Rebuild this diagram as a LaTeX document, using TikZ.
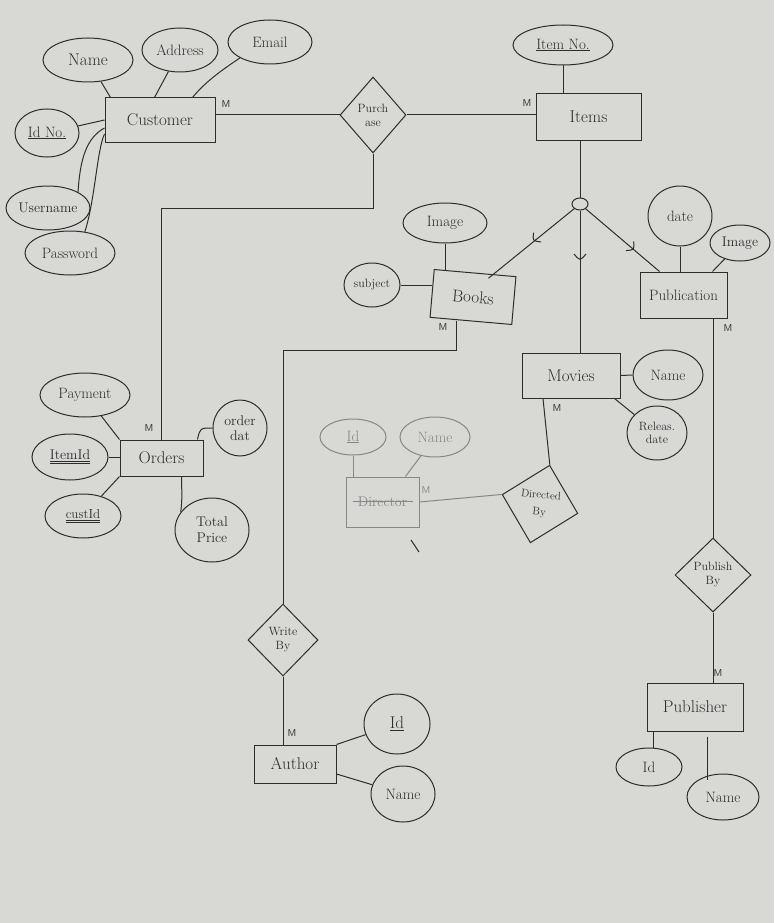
\documentclass[tikz,border=0pt]{standalone}
\usepackage{fontspec}
\usetikzlibrary{shapes.geometric}
\definecolor{paper}{RGB}{216,216,213}
\definecolor{pencil}{RGB}{45,45,45}
\definecolor{faint}{RGB}{135,135,135}
\begin{document}
\begin{tikzpicture}[x=1pt,y=-1pt,line width=1pt,color=pencil,
  ent/.style={draw,rectangle,inner sep=0pt,font=\fontsize{17}{19}\selectfont},
  attr/.style={draw,ellipse,inner sep=0pt,align=center,font=\fontsize{15}{16}\selectfont},
  rel/.style={draw,diamond,inner sep=0pt,align=center,font=\fontsize{12}{14}\selectfont},
  mlab/.style={inner sep=0pt,font=\fontsize{10}{11}\selectfont\sffamily},
  fnt/.style={color=faint}]
\fill[paper] (0,0) rectangle (774,923);
\useasboundingbox (0,0) rectangle (774,923);

% ---------- Customer ----------
\node[ent,minimum width=110,minimum height=44] (cust) at (160,120) {Customer};
\node[attr,minimum width=90,minimum height=44,font=\fontsize{17}{18}\selectfont] (cname) at (88,60) {Name};
\node[attr,minimum width=76,minimum height=44] (caddr) at (180,50) {Address};
\node[attr,minimum width=84,minimum height=44] (cemail) at (270,42) {Email};
\node[attr,minimum width=64,minimum height=48] (cidno) at (47,133) {\underline{Id No.}};
\node[attr,minimum width=84,minimum height=44,font=\fontsize{14}{15}\selectfont] (cuser) at (48,208) {Username};
\node[attr,minimum width=90,minimum height=44] (cpass) at (70,253) {Password};
\draw ([xshift=6pt]cust.north west) -- (cname);
\draw ([xshift=50pt]cust.north west) -- (caddr);
\draw ([xshift=88pt]cust.north west) .. controls (205,82) and (222,70) .. (cemail.south west);
\draw (cidno) -- (cust.west);
\draw ([yshift=-8pt]cust.west) .. controls (86,138) and (80,160) .. (cuser.north east);
\draw ([yshift=-14pt]cust.west) .. controls (97,150) and (95,200) .. (cpass.55);
\node[mlab] (m1) at (226,104) {M};

% ---------- Purchase / Items ----------
\node[rel,minimum width=66,minimum height=76] (purch) at (373,115) {Purch\\ase};
\node[ent,minimum width=105,minimum height=46] (items) at (588.5,117) {Items};
\node[attr,minimum width=100,minimum height=40] (itemno) at (563,45) {\underline{Item No.}};
\draw (purch.west) -- (purch.west -| cust.east);
\draw (purch.east) -- (purch.east -| items.west);
\draw (itemno.south) -- (itemno.south |- items.north);
\node[mlab] (m2) at (527,103) {M};

% ---------- ISA ----------
\node[draw,ellipse,minimum width=16,minimum height=12,inner sep=0pt] (isa) at (580,204) {};
\draw (isa |- items.south) -- (isa);

% ---------- Books ----------
\node[ent,minimum width=82,minimum height=48,rotate=-5] (books) at (473,297) {Books};
\node[attr,minimum width=84,minimum height=40] (bimage) at (445,223) {Image};
\node[attr,minimum width=56,minimum height=44,font=\fontsize{12}{13}\selectfont] (subject) at (372,285) {subject};
\draw (bimage.south) -- ([yshift=2pt]bimage.south |- books.north);
\draw (subject.east) -- (subject.east -| books.west);
\draw (isa) -- ([xshift=-28pt,yshift=-2pt]books.north east);
\node[mlab] (m3) at (443,327) {M};

% ---------- Publication ----------
\node[ent,minimum width=87,minimum height=46,font=\fontsize{15}{16}\selectfont] (pub) at (683.5,295) {Publication};
\node[attr,minimum width=64,minimum height=60] (date) at (680,216) {date};
\node[attr,minimum width=60,minimum height=36,font=\fontsize{14}{15}\selectfont] (pimage) at (740,243) {Image};
\draw (date.south) -- (date.south |- pub.north);
\draw (pimage) -- ([xshift=-15pt]pub.north east);
\draw (isa) -- ([xshift=20pt]pub.north west);
\node[mlab] (m4) at (728,328) {M};

% ---------- Movies ----------
\node[ent,minimum width=98,minimum height=45] (movies) at (571,375.5) {Movies};
\node[attr,minimum width=70,minimum height=50] (mname) at (668,375) {Name};
\node[attr,minimum width=60,minimum height=54,font=\fontsize{12}{13}\selectfont] (release) at (657,433) {Releas.\\date};
\draw (movies.east) -- (mname.west);
\draw ([xshift=-6pt]movies.south east) -- (release);
\draw (isa) -- (isa |- movies.north);
\node[mlab] (m5) at (557,408) {M};

% subset marks
\draw (541.1,242.0) .. controls (532.6,240.9) .. (533.6,232.6);
\draw (633.65,241.5) .. controls (634.3,250) .. (625.8,250.6);
\draw (586,254) .. controls (580,261) .. (574,254);

% ---------- Directed By / Director ----------
\node[rel,minimum width=78,minimum height=80,rotate=-14] (dirby) at (540,504) {};
\node[align=center,inner sep=0pt,rotate=-6,font=\fontsize{11}{17}\selectfont] (dirbytxt) at (dirby.center) {Directed\\By};
\draw ([xshift=-28pt]movies.south) -- (dirby.north);
\node[ent,fnt,minimum width=73,minimum height=50,font=\fontsize{14}{16}\selectfont] (director) at (382.5,502) {Director};
\draw[fnt] ([xshift=-30pt,yshift=1pt]director.center) -- ([xshift=30pt,yshift=1pt]director.center);
\node[attr,fnt,minimum width=66,minimum height=36] (did) at (353,437) {\underline{Id}};
\node[attr,fnt,minimum width=70,minimum height=40] (dname) at (435,437) {Name};
\draw[fnt] (did.south) -- (did.south |- director.north);
\draw[fnt] (dname) -- ([xshift=-14pt]director.north east);
\draw[fnt] (director.east) -- (dirby.west);
\node[mlab,fnt] (m6) at (426,490) {M};
\draw (411,540) -- (419,552);

% ---------- Orders ----------
\node[ent,minimum width=83,minimum height=36] (orders) at (161.5,458) {Orders};
\node[attr,minimum width=90,minimum height=44] (payment) at (85,395) {Payment};
\node[attr,minimum width=76,minimum height=46,font=\fontsize{14}{15}\selectfont] (itemid) at (70,457) {\underline{\underline{ItemId}}};
\node[attr,minimum width=76,minimum height=44,font=\fontsize{13}{14}\selectfont] (custid) at (83,516) {\underline{\underline{custId}}};
\node[attr,minimum width=54,minimum height=56,font=\fontsize{14}{15}\selectfont] (orderdat) at (240,428) {order\\dat};
\node[attr,minimum width=74,minimum height=64,font=\fontsize{14}{16}\selectfont] (total) at (212,530) {Total\\Price};
\draw (orders.north west) -- (payment);
\draw (itemid.east) -- (itemid.east -| orders.west);
\draw (orders.south west) -- (custid);
\draw ([xshift=-6pt]orders.north east) .. controls (200,428) .. (orderdat.west);
\draw ([xshift=-22pt]orders.south east) .. controls (182,500) .. (total.150);
\node[mlab] (m7) at (149,428) {M};
\coordinate (bend1) at (374,208);
\draw (purch.south) -- (purch.south |- bend1) -| (orders.north);

% ---------- Write By / Author ----------
\node[rel,minimum width=70,minimum height=72] (writeby) at (283,640) {Write\\By};
\coordinate (bend2) at (283,350);
\draw ([xshift=-14pt]books.south) |- (bend2) -- (writeby.north);
\node[ent,minimum width=82,minimum height=38] (author) at (295,764) {Author};
\node[attr,minimum width=66,minimum height=60,font=\fontsize{17}{18}\selectfont] (aid) at (397,724) {\underline{Id}};
\node[attr,minimum width=64,minimum height=56] (aname) at (403,794) {Name};
\draw (writeby.south) -- (writeby.south |- author.north);
\draw (author.north east) -- (aid);
\draw ([yshift=-10pt]author.east) -- (aname);
\node[mlab] (m8) at (292,733) {M};

% ---------- Publish By / Publisher ----------
\node[rel,minimum width=76,minimum height=74] (pubby) at (713,575) {Publish\\By};
\draw (pubby.north |- pub.south) -- (pubby.north);
\node[ent,minimum width=96,minimum height=48] (publisher) at (695,707) {Publisher};
\node[attr,minimum width=66,minimum height=38] (pid) at (649,767) {Id};
\node[attr,minimum width=72,minimum height=46] (pname) at (723,797) {Name};
\draw (pubby.south) -- (pubby.south |- publisher.north);
\coordinate (pidtop) at ([xshift=7pt]publisher.south west);
\draw (pidtop) -- (pidtop |- pid.north);
\coordinate (pnametop) at ([xshift=61pt,yshift=-5pt]publisher.south west);
\draw (pnametop) -- (pnametop |- pname.north west);
\node[mlab] (m9) at (718,673) {M};
\end{tikzpicture}
\end{document}
